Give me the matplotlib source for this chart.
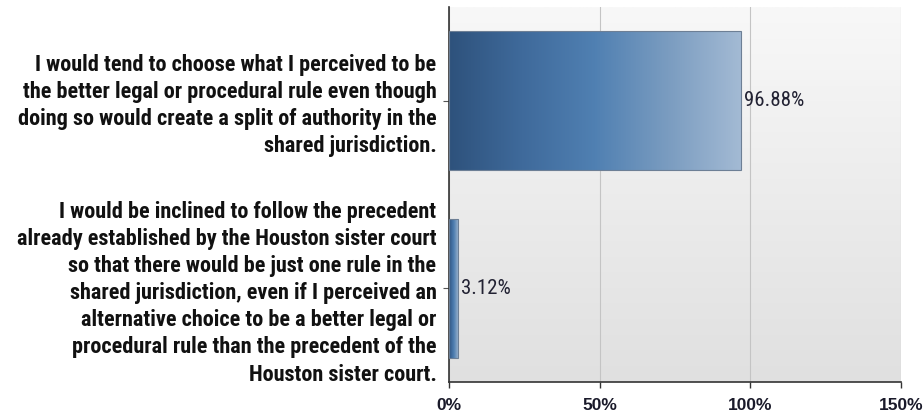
import matplotlib.pyplot as plt
import numpy as np
from matplotlib.colors import LinearSegmentedColormap

LABELS = [
    "I would tend to choose what I perceived to be\n"
    "the better legal or procedural rule even though\n"
    "doing so would create a split of authority in the\n"
    "shared jurisdiction.",
    "I would be inclined to follow the precedent\n"
    "already established by the Houston sister court\n"
    "so that there would be just one rule in the\n"
    "shared jurisdiction, even if I perceived an\n"
    "alternative choice to be a better legal or\n"
    "procedural rule than the precedent of the\n"
    "Houston sister court.",
]
VALUES = [96.88, 3.12]
XTICKS = [0, 50, 100, 150]

NARROW = ["Roboto Condensed", "Liberation Sans", "DejaVu Sans"]
plt.rcParams["font.family"] = NARROW

fig = plt.figure(figsize=(9.24, 4.2), dpi=100)
ax = fig.add_axes([449 / 924, 1 - 382 / 420, 452 / 924, 375 / 420])

# background: light at the top fading to grey at the bottom
bg = np.linspace(0, 1, 256).reshape(-1, 1)
bg_cmap = LinearSegmentedColormap.from_list("bg", ["#f8f8f8", "#e0e0e0"])
ax.imshow(bg, aspect="auto", cmap=bg_cmap, extent=[0, 1, 0, 1],
          transform=ax.transAxes, origin="upper", zorder=0)

ypos = np.arange(len(VALUES))
bars = ax.barh(ypos, VALUES, height=0.74, color="none", edgecolor="#6d7f95",
               linewidth=0.8, zorder=3)

bar_cmap = LinearSegmentedColormap.from_list(
    "bar", ["#2e527c", "#3f6a9b", "#5080b2", "#7a9cc0", "#a3bad4"])
grad = np.linspace(0, 1, 256).reshape(1, -1)
for b in bars:
    x0, y0 = b.get_x(), b.get_y()
    w, h = b.get_width(), b.get_height()
    im = ax.imshow(grad, aspect="auto", cmap=bar_cmap,
                   extent=[x0, x0 + w, y0, y0 + h],
                   origin="lower", zorder=2)
    im.set_clip_path(b)

for y, v in zip(ypos, VALUES):
    ax.annotate(f"{v:.2f}%", (v, y), xytext=(2, 0), textcoords="offset points",
                va="center", ha="left", fontsize=15, color="#222233",
                zorder=4)

ax.set_xlim(0, 150)
ax.set_ylim(1.5, -0.5)
ax.set_xticks(XTICKS)
ax.set_xticklabels([f"{t}%" for t in XTICKS], fontsize=12.5, fontweight="bold",
                   color="#1a1a2a", family=["Liberation Sans", "DejaVu Sans"])
ax.set_yticks(ypos)
ax.set_yticklabels(LABELS, fontsize=16, fontweight="bold", color="#111111",
                   ha="right", linespacing=1.3)
ax.tick_params(axis="y", length=4, width=0.8, color="#555555", pad=5)
ax.tick_params(axis="x", length=4.5, width=1.0, color="#333333", pad=7)

ax.grid(axis="x", color="#c4c4c4", linewidth=0.8, zorder=1)
ax.set_axisbelow(True)
for side in ["top", "right"]:
    ax.spines[side].set_visible(False)
for side in ["left", "bottom"]:
    ax.spines[side].set_color("#333333")
    ax.spines[side].set_linewidth(1.2)

fig.savefig("out.png", dpi=100, facecolor="white")
